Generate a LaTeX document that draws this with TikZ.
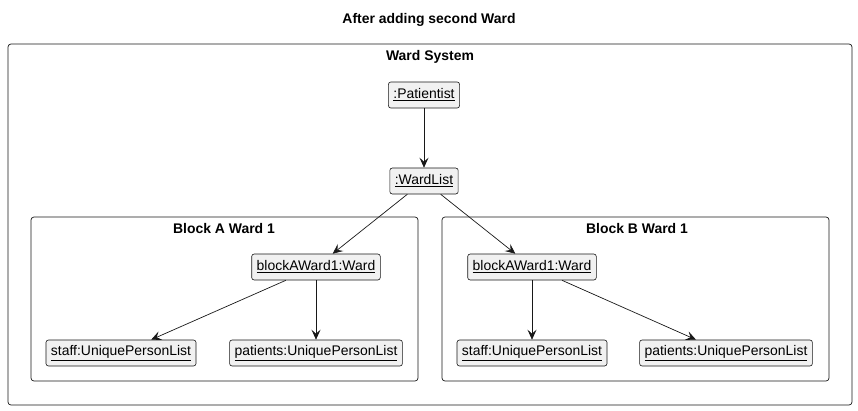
\documentclass[tikz,border=0pt]{standalone}
\usepackage{fontspec}
\setmainfont{Liberation Sans}
\usetikzlibrary{arrows.meta}
\definecolor{ObjFill}{HTML}{F1F1F1}
\definecolor{LineClr}{HTML}{181818}

\begin{document}
\begin{tikzpicture}[x=1bp,y=-1bp,
  obj/.style={draw=LineClr,fill=ObjFill,rounded corners=2.5bp,line width=0.6bp,
    inner xsep=5bp,inner ysep=0bp,minimum height=26bp,
    font=\fontsize{14}{16}\selectfont},
  frame/.style={draw=LineClr,line width=0.7bp,rounded corners=3bp},
  ftitle/.style={font=\fontsize{14}{16}\selectfont\bfseries},
  link/.style={draw=LineClr,line width=0.7bp,-{Stealth[length=10bp,width=9bp,inset=4bp]}}]
\useasboundingbox (0,0) rectangle (858,410);

\node[ftitle] (title) at (429,20) {After adding second Ward};

\draw[frame] (8,44) rectangle (852,405);
\node[ftitle] (sysTitle) at (430,57) {Ward System};

\draw[frame] (31,217) rectangle (418,381);
\node[ftitle] (blkATitle) at (224,229) {Block A Ward 1};
\draw[frame] (442,217) rectangle (829,381);
\node[ftitle] (blkBTitle) at (637,229) {Block B Ward 1};

\node[obj] (pat) at (424,95) {\underline{:Patientist}};
\node[obj] (wl) at (424,181) {\underline{:WardList}};

\node[obj] (wardA) at (316,267) {\underline{blockAWard1:Ward}};
\node[obj] (staffA) at (121,353) {\underline{staff:UniquePersonList}};
\node[obj] (patsA) at (316,353) {\underline{patients:UniquePersonList}};

\node[obj] (wardB) at (532,267) {\underline{blockAWard1:Ward}};
\node[obj] (staffB) at (532,353) {\underline{staff:UniquePersonList}};
\node[obj] (patsB) at (726,353) {\underline{patients:UniquePersonList}};

\draw[link] (pat) -- (wl);
\draw[link] (wl) -- (wardA);
\draw[link] (wl) -- (wardB);
\draw[link] (wardA) -- (staffA);
\draw[link] (wardA) -- (patsA);
\draw[link] (wardB) -- (staffB);
\draw[link] (wardB) -- (patsB);

\end{tikzpicture}
\end{document}
